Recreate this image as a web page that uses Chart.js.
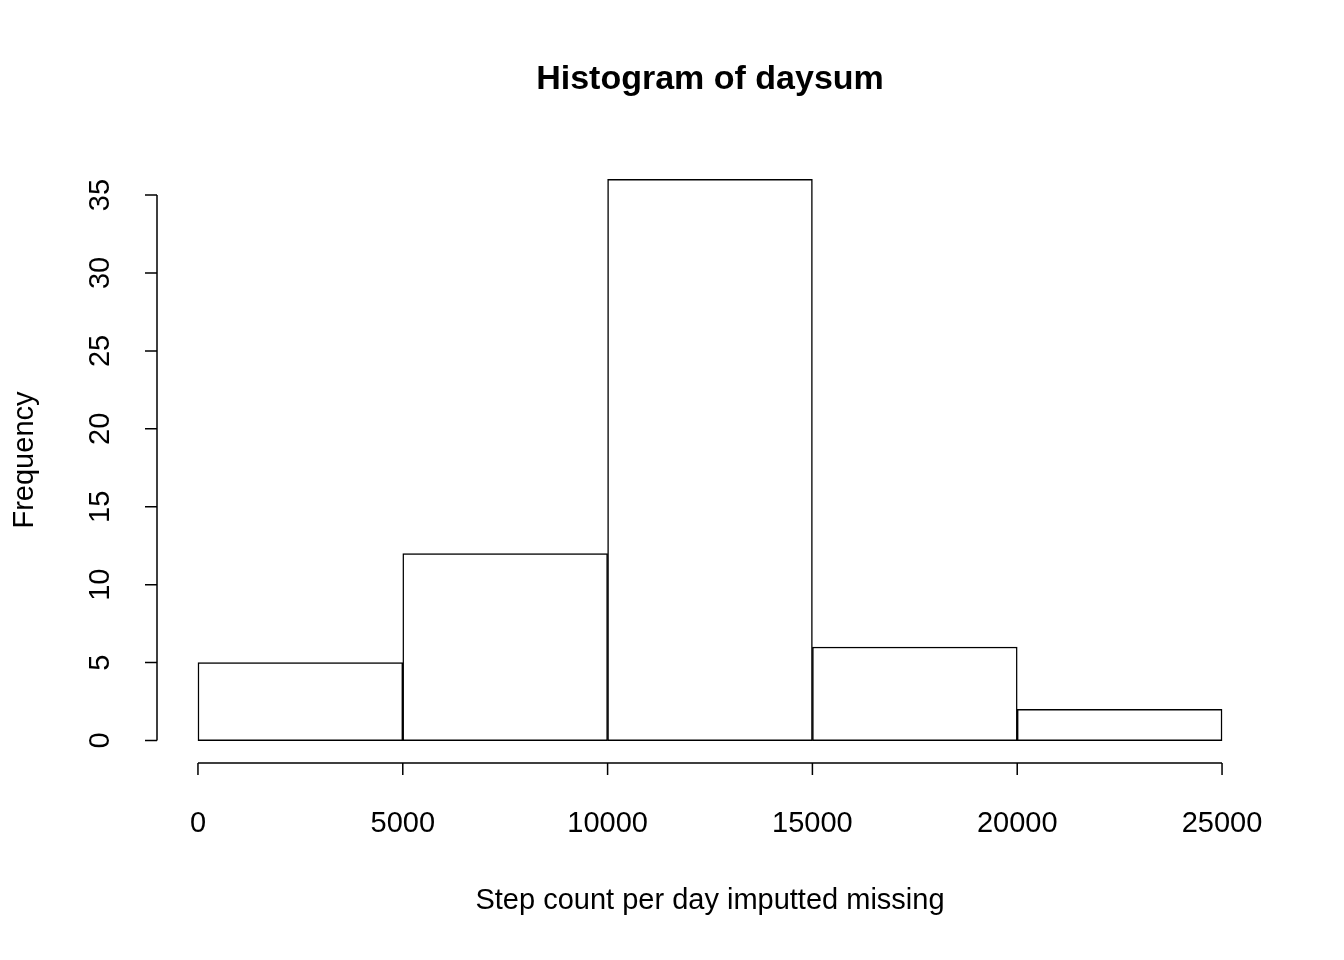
<!DOCTYPE html>
<html>
<head>
<meta charset="utf-8">
<script src="https://cdn.jsdelivr.net/npm/chart.js@4/dist/chart.umd.min.js"></script>
<style>
  html, body { margin: 0; padding: 0; background: #fff; }
  #wrap { width: 1344px; height: 960px; }
</style>
</head>
<body>
<div id="wrap"><canvas id="hist"></canvas></div>
<script>
// Histogram data
const binEdges = [0, 5000, 10000, 15000, 20000, 25000];
const frequencies = [5, 12, 36, 6, 2];
const xTicks = [0, 5000, 10000, 15000, 20000, 25000];
const yTicks = [0, 5, 10, 15, 20, 25, 30, 35];

const titleText = 'Histogram of daysum';
const xLabel = 'Step count per day imputted missing';
const yLabel = 'Frequency';

const FONT = '"Liberation Sans", Arial, sans-serif';

// bar centres from bin edges
const points = frequencies.map((f, i) => ({ x: (binEdges[i] + binEdges[i + 1]) / 2, y: f }));

// R-style axes drawn off the chart's own scales
const rAxes = {
  id: 'rAxes',
  afterDraw(chart) {
    const ctx = chart.ctx;
    const xs = chart.scales.x, ys = chart.scales.y;
    const area = chart.chartArea;
    ctx.save();
    ctx.strokeStyle = '#000';
    ctx.fillStyle = '#000';
    ctx.lineWidth = 1.5;

    // y axis
    const ax = area.left;
    ctx.beginPath();
    ctx.moveTo(ax, ys.getPixelForValue(yTicks[0]));
    ctx.lineTo(ax, ys.getPixelForValue(yTicks[yTicks.length - 1]));
    yTicks.forEach(t => {
      const py = ys.getPixelForValue(t);
      ctx.moveTo(ax, py);
      ctx.lineTo(ax - 12, py);
    });
    ctx.stroke();
    ctx.font = '29px ' + FONT;
    ctx.textAlign = 'center';
    ctx.textBaseline = 'middle';
    yTicks.forEach(t => {
      const py = ys.getPixelForValue(t);
      ctx.save();
      ctx.translate(101, py);
      ctx.rotate(-Math.PI / 2);
      ctx.fillText(String(t), 0, 0);
      ctx.restore();
    });

    // x axis
    const ay = area.bottom;
    ctx.beginPath();
    ctx.moveTo(xs.getPixelForValue(xTicks[0]), ay);
    ctx.lineTo(xs.getPixelForValue(xTicks[xTicks.length - 1]), ay);
    xTicks.forEach(t => {
      const px = xs.getPixelForValue(t);
      ctx.moveTo(px, ay);
      ctx.lineTo(px, ay + 12);
    });
    ctx.stroke();
    xTicks.forEach(t => {
      ctx.fillText(String(t), xs.getPixelForValue(t), 824);
    });

    // labels
    ctx.fillText(xLabel, 710, 901);
    ctx.save();
    ctx.translate(25, 460);
    ctx.rotate(-Math.PI / 2);
    ctx.fillText(yLabel, 0, 0);
    ctx.restore();

    ctx.font = 'bold 34px ' + FONT;
    ctx.fillText(titleText, 710, 80);
    ctx.restore();
  }
};

// R pads the data range by 4% on each side
const xMin = binEdges[0], xMax = binEdges[binEdges.length - 1];
const yMax = Math.max(...frequencies);
const xPad = (xMax - xMin) * 0.04, yPad = yMax * 0.04;

new Chart(document.getElementById('hist'), {
  type: 'bar',
  data: {
    datasets: [{
      data: points,
      backgroundColor: '#ffffff',
      borderColor: '#000000',
      borderWidth: 1.5,
      borderSkipped: false,
      barPercentage: 1,
      categoryPercentage: 1
    }]
  },
  options: {
    responsive: true,
    maintainAspectRatio: false,
    animation: false,
    devicePixelRatio: 1,
    layout: { padding: { left: 157, right: 81, top: 157, bottom: 197 } },
    plugins: { legend: { display: false }, tooltip: { enabled: false } },
    scales: {
      x: { type: 'linear', offset: false, min: xMin - xPad, max: xMax + xPad, display: false },
      y: { min: -yPad, max: yMax + yPad, display: false }
    }
  },
  plugins: [rAxes]
});
</script>
</body>
</html>
